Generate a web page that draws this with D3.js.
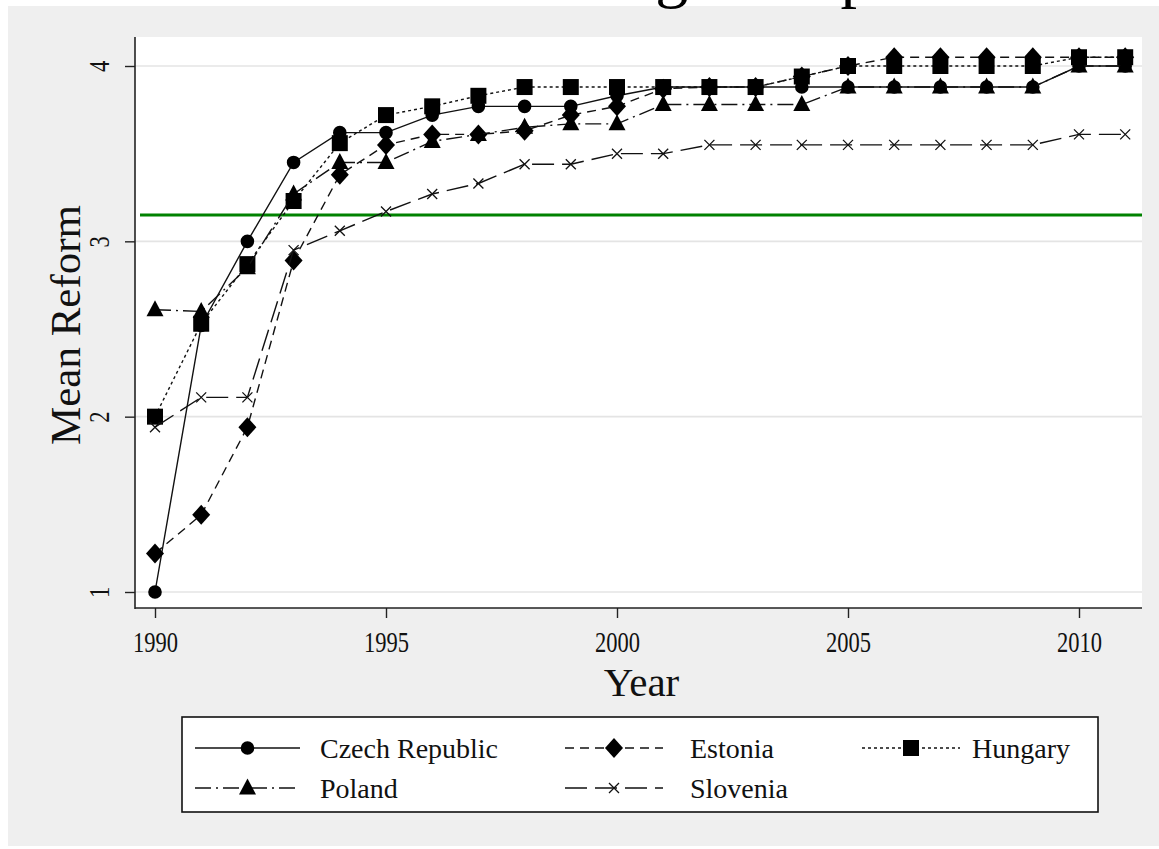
<!DOCTYPE html>
<html><head><meta charset="utf-8">
<script src="https://cdn.jsdelivr.net/npm/d3@7"></script>
<style>body{margin:0;background:#fff}svg{display:block}</style>
</head><body><svg id="c" width="1159" height="849"></svg>
<script>
const years = [1990,1991,1992,1993,1994,1995,1996,1997,1998,1999,2000,2001,2002,2003,2004,2005,2006,2007,2008,2009,2010,2011];
const czech    = [1.00,2.52,3.00,3.45,3.62,3.62,3.72,3.77,3.77,3.77,3.83,3.88,3.88,3.88,3.88,3.88,3.88,3.88,3.88,3.88,4.00,4.00];
const estonia  = [1.22,1.44,1.94,2.89,3.38,3.55,3.61,3.61,3.63,3.72,3.77,3.87,3.88,3.88,3.94,4.00,4.05,4.05,4.05,4.05,4.05,4.05];
const hungary  = [2.00,2.53,2.87,3.23,3.56,3.72,3.77,3.83,3.88,3.88,3.88,3.88,3.88,3.88,3.94,4.00,4.00,4.00,4.00,4.00,4.05,4.05];
const poland   = [2.61,2.60,2.85,3.27,3.45,3.45,3.57,3.61,3.65,3.67,3.67,3.78,3.78,3.78,3.78,3.88,3.88,3.88,3.88,3.88,4.00,4.00];
const slovenia = [1.94,2.11,2.11,2.95,3.06,3.17,3.27,3.33,3.44,3.44,3.50,3.50,3.55,3.55,3.55,3.55,3.55,3.55,3.55,3.55,3.61,3.61];
const seriesNames = ["Czech Republic","Estonia","Hungary","Poland","Slovenia"];
const xTicks = [1990,1995,2000,2005,2010];
const yTicks = [1,2,3,4];
const threshold = 3.15;
const titleText = "Leading Group";
const xTitle = "Year", yTitle = "Mean Reform";

const seriesValues = [czech, estonia, hungary, poland, slovenia];
const styles = [
  {shape:"circle",  dash:null},
  {shape:"diamond", dash:"9,6"},
  {shape:"square",  dash:"3,3"},
  {shape:"triangle",dash:"16,5,2,5"},
  {shape:"x",       dash:"22,8"}
];

const svg = d3.select("#c");
const W = 1159, H = 849;
const plot = {l:135, r:1142, t:37, b:608};
const FONT = "'Liberation Serif','Times New Roman',serif";

// background
svg.append("rect").attr("x",0).attr("y",0).attr("width",W).attr("height",H).attr("fill","#ffffff");
svg.append("rect").attr("x",8).attr("y",6).attr("width",W-8).attr("height",840).attr("fill","#efefef");

// title (cut off at the top, as in the reference)
svg.append("text").attr("x",472).attr("y",-5).attr("font-family",FONT).attr("font-size",66)
  .attr("fill","#000").text(titleText);

svg.append("rect").attr("x",plot.l).attr("y",plot.t).attr("width",plot.r-plot.l).attr("height",plot.b-plot.t).attr("fill","#fff");

const x = d3.scaleLinear().domain([1990,2010]).range([155,1079]);
const y = d3.scaleLinear().domain([1,4]).range([592,66]);

// gridlines
svg.append("g").selectAll("line").data(yTicks).join("line")
  .attr("x1",plot.l).attr("x2",plot.r).attr("y1",d=>y(d)).attr("y2",d=>y(d))
  .attr("stroke","#e4e4e4").attr("stroke-width",1.6);

// threshold line
svg.append("line").attr("x1",plot.l+5).attr("x2",plot.r).attr("y1",y(threshold)).attr("y2",y(threshold))
  .attr("stroke","#008200").attr("stroke-width",3);

// axes
const xa = svg.append("g").attr("transform",`translate(0,${plot.b})`)
  .call(d3.axisBottom(x).tickValues(xTicks).tickFormat(d3.format("d")).tickSize(10).tickSizeOuter(0));
xa.select(".domain").remove();
xa.selectAll("line").attr("stroke","#222").attr("stroke-width",1.4);
xa.selectAll("text").attr("font-family",FONT).attr("font-size",30).attr("fill","#111")
  .attr("y",0).attr("dy",0).attr("transform","translate(0,44) scale(0.75,1)");

const ya = svg.append("g").attr("transform",`translate(${plot.l},0)`)
  .call(d3.axisLeft(y).tickValues(yTicks).tickFormat(d3.format("d")).tickSize(10).tickSizeOuter(0));
ya.select(".domain").remove();
ya.selectAll("line").attr("stroke","#222").attr("stroke-width",1.4);
ya.selectAll("text").attr("font-family",FONT).attr("font-size",30).attr("fill","#111")
  .attr("x",0).attr("dy",0).attr("text-anchor","middle")
  .attr("transform","translate(-26,0) rotate(-90) scale(0.75,1)");

svg.append("line").attr("x1",plot.l).attr("x2",plot.l).attr("y1",plot.t).attr("y2",plot.b+1).attr("stroke","#222").attr("stroke-width",1.6);
svg.append("line").attr("x1",plot.l).attr("x2",plot.r).attr("y1",plot.b).attr("y2",plot.b).attr("stroke","#222").attr("stroke-width",1.6);

// axis titles
svg.append("text").attr("x",(plot.l+plot.r)/2+3).attr("y",696).attr("text-anchor","middle")
  .attr("font-family",FONT).attr("font-size",41).attr("fill","#111").text(xTitle);
svg.append("text").attr("transform","translate(80,325) rotate(-90)").attr("text-anchor","middle")
  .attr("font-family",FONT).attr("font-size",43).attr("fill","#111").text(yTitle);

// marker path builders
function markerPath(shape){
  switch(shape){
    case "circle": return d3.symbol(d3.symbolCircle, Math.PI*6.8*6.8)();
    case "diamond": return "M0,-10L9,0L0,10L-9,0Z";
    case "square": return "M-8,-8L8,-8L8,8L-8,8Z";
    case "triangle": return "M0,-9.5L8.5,6.5L-8.5,6.5Z";
    case "x": return "M-5,-5L5,5M-5,5L5,-5";
  }
}
function drawMarker(g, shape, cx, cy){
  const p = g.append("path").attr("d",markerPath(shape)).attr("transform",`translate(${cx},${cy})`);
  if(shape==="x") p.attr("fill","none").attr("stroke","#111").attr("stroke-width",1.3);
  else p.attr("fill","#000");
}

const line = d3.line().x(d=>x(d.year)).y(d=>y(d.v));
seriesValues.forEach((vals,i)=>{
  const data = years.map((yr,j)=>({year:yr, v:vals[j]}));
  const g = svg.append("g");
  g.append("path").datum(data).attr("d",line).attr("fill","none")
    .attr("stroke","#111").attr("stroke-width",1.4)
    .attr("stroke-dasharray",styles[i].dash);
  data.forEach(d=>drawMarker(g, styles[i].shape, x(d.year), y(d.v)));
});

// legend
const lg = svg.append("g");
lg.append("rect").attr("x",182).attr("y",717).attr("width",916).attr("height",95)
  .attr("fill","#fff").attr("stroke","#111").attr("stroke-width",1.6);
const legPos = [
  {lx:195, rx:300, ty:748, tx:320},
  {lx:565, rx:663, ty:748, tx:690},
  {lx:862, rx:960, ty:748, tx:972},
  {lx:195, rx:300, ty:788, tx:320},
  {lx:565, rx:663, ty:788, tx:690}
];
seriesNames.forEach((name,i)=>{
  const p = legPos[i];
  lg.append("line").attr("x1",p.lx).attr("x2",p.rx).attr("y1",p.ty).attr("y2",p.ty)
    .attr("stroke","#111").attr("stroke-width",1.4).attr("stroke-dasharray",styles[i].dash);
  drawMarker(lg, styles[i].shape, (p.lx+p.rx)/2, p.ty);
  lg.append("text").attr("x",p.tx).attr("y",p.ty+10).attr("font-family",FONT).attr("font-size",28)
    .attr("fill","#111").text(name);
});
</script>
</body></html>
